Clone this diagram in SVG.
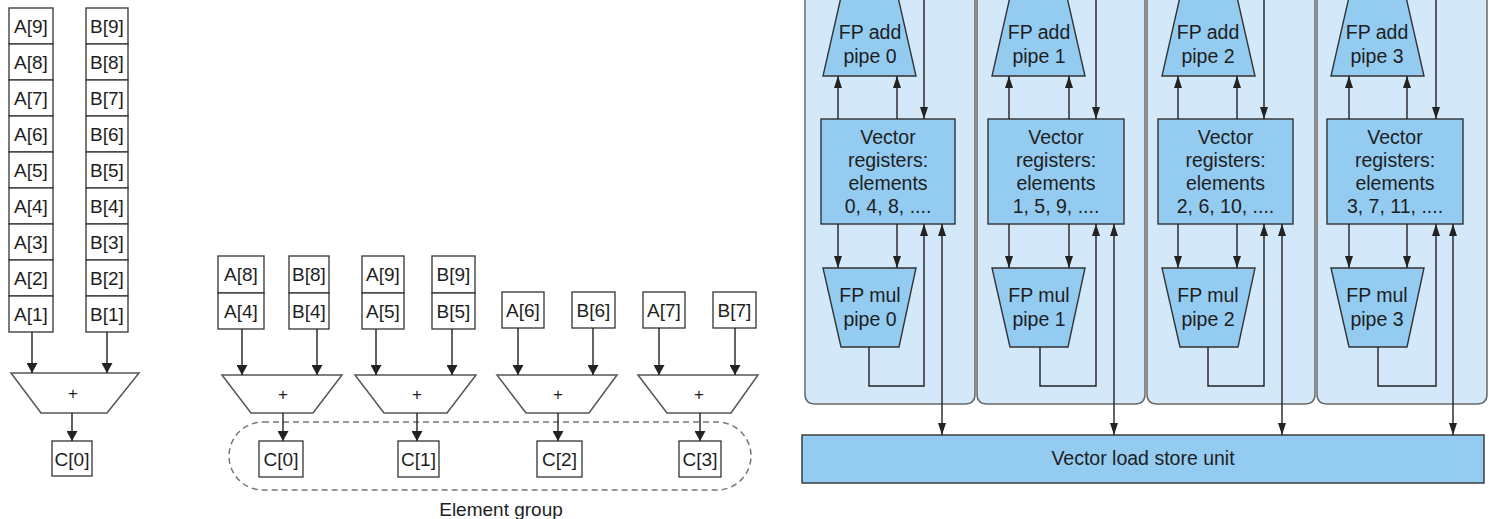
<svg xmlns="http://www.w3.org/2000/svg" width="1489" height="519" viewBox="0 0 1489 519">
<style>
text{font-family:"Liberation Sans",Arial,Helvetica,sans-serif;fill:#1e1e1e;text-anchor:middle}
.t{font-size:19px}
.p{font-size:17px}
.box{fill:#fff;stroke:#333;stroke-width:1.3}
.add{fill:#fff;stroke:#555;stroke-width:1.5}
.ln{fill:none;stroke:#222;stroke-width:1.4}
.lane{fill:#d3e8f8;stroke:#6a6a6a;stroke-width:1.5}
.blk{fill:#94cbf1;stroke:#333;stroke-width:1.4}
.lt{font-size:19.5px}
.grp{fill:none;stroke:#777;stroke-width:1.5;stroke-dasharray:6 4}
</style>
<defs>
<marker id="ah" markerWidth="10" markerHeight="11" refX="10" refY="5.5" orient="auto" markerUnits="userSpaceOnUse"><path d="M0,0 L10,5.5 L0,11 z" fill="#222"/></marker>
<marker id="ah2" markerWidth="12" markerHeight="8" refX="12" refY="4" orient="auto-start-reverse" markerUnits="userSpaceOnUse"><path d="M0,0 L12,4 L0,8 z" fill="#222"/></marker>
</defs>

<!-- Left: single pipeline -->
<g id="colA">
<rect class="box" x="9" y="8" width="44" height="36"/><text class="t" x="31" y="32.5">A[9]</text>
<rect class="box" x="9" y="44" width="44" height="36"/><text class="t" x="31" y="68.5">A[8]</text>
<rect class="box" x="9" y="80" width="44" height="36"/><text class="t" x="31" y="104.5">A[7]</text>
<rect class="box" x="9" y="116" width="44" height="36"/><text class="t" x="31" y="140.5">A[6]</text>
<rect class="box" x="9" y="152" width="44" height="36"/><text class="t" x="31" y="176.5">A[5]</text>
<rect class="box" x="9" y="188" width="44" height="36"/><text class="t" x="31" y="212.5">A[4]</text>
<rect class="box" x="9" y="224" width="44" height="36"/><text class="t" x="31" y="248.5">A[3]</text>
<rect class="box" x="9" y="260" width="44" height="36"/><text class="t" x="31" y="284.5">A[2]</text>
<rect class="box" x="9" y="296" width="44" height="36"/><text class="t" x="31" y="320.5">A[1]</text>
</g>
<g id="colB">
<rect class="box" x="86" y="8" width="42" height="36"/><text class="t" x="107" y="32.5">B[9]</text>
<rect class="box" x="86" y="44" width="42" height="36"/><text class="t" x="107" y="68.5">B[8]</text>
<rect class="box" x="86" y="80" width="42" height="36"/><text class="t" x="107" y="104.5">B[7]</text>
<rect class="box" x="86" y="116" width="42" height="36"/><text class="t" x="107" y="140.5">B[6]</text>
<rect class="box" x="86" y="152" width="42" height="36"/><text class="t" x="107" y="176.5">B[5]</text>
<rect class="box" x="86" y="188" width="42" height="36"/><text class="t" x="107" y="212.5">B[4]</text>
<rect class="box" x="86" y="224" width="42" height="36"/><text class="t" x="107" y="248.5">B[3]</text>
<rect class="box" x="86" y="260" width="42" height="36"/><text class="t" x="107" y="284.5">B[2]</text>
<rect class="box" x="86" y="296" width="42" height="36"/><text class="t" x="107" y="320.5">B[1]</text>
</g>
<g id="adder0">
<polygon class="add" points="11,373 139,373 107,413 41,413"/><text class="p" x="73" y="399">+</text>
</g>
<g id="c0single">
<rect class="box" x="52" y="441" width="40" height="35"/><text class="t" x="72" y="465.5">C[0]</text>
</g>

<!-- Middle: four lanes -->
<g id="m1inA"><rect class="box" x="218" y="256" width="46" height="37"/><text class="t" x="241" y="281">A[8]</text><rect class="box" x="218" y="293" width="46" height="36"/><text class="t" x="241" y="317.5">A[4]</text></g>
<g id="m1inB"><rect class="box" x="289" y="256" width="40" height="37"/><text class="t" x="309" y="281">B[8]</text><rect class="box" x="289" y="293" width="40" height="36"/><text class="t" x="309" y="317.5">B[4]</text></g>
<g id="m2inA"><rect class="box" x="362" y="256" width="42" height="37"/><text class="t" x="383" y="281">A[9]</text><rect class="box" x="362" y="293" width="42" height="36"/><text class="t" x="383" y="317.5">A[5]</text></g>
<g id="m2inB"><rect class="box" x="432" y="256" width="43" height="37"/><text class="t" x="453.5" y="281">B[9]</text><rect class="box" x="432" y="293" width="43" height="36"/><text class="t" x="453.5" y="317.5">B[5]</text></g>
<g id="m3inA"><rect class="box" x="502" y="292" width="42" height="36"/><text class="t" x="523" y="316.5">A[6]</text></g>
<g id="m3inB"><rect class="box" x="572" y="292" width="43" height="36"/><text class="t" x="593.5" y="316.5">B[6]</text></g>
<g id="m4inA"><rect class="box" x="643" y="292" width="42" height="36"/><text class="t" x="664" y="316.5">A[7]</text></g>
<g id="m4inB"><rect class="box" x="713" y="292" width="43" height="36"/><text class="t" x="734.5" y="316.5">B[7]</text></g>

<g id="madd1"><polygon class="add" points="222,375 342,375 313,413 251,413"/><text class="p" x="283" y="400">+</text></g>
<g id="madd2"><polygon class="add" points="355,375 476,375 447,413 384,413"/><text class="p" x="417" y="400">+</text></g>
<g id="madd3"><polygon class="add" points="497,375 617,375 589,413 526,413"/><text class="p" x="558" y="400">+</text></g>
<g id="madd4"><polygon class="add" points="638,375 758,375 731,413 667,413"/><text class="p" x="699" y="400">+</text></g>

<g id="elementGroup"><rect class="grp" x="229" y="422" width="522" height="68" rx="34" ry="34"/><text class="t" x="501" y="516">Element group</text></g>
<g id="mc0"><rect class="box" x="259" y="441" width="44" height="36"/><text class="t" x="281" y="465.5">C[0]</text></g>
<g id="mc1"><rect class="box" x="398" y="441" width="41" height="36"/><text class="t" x="418.5" y="465.5">C[1]</text></g>
<g id="mc2"><rect class="box" x="537" y="441" width="45" height="36"/><text class="t" x="559.5" y="465.5">C[2]</text></g>
<g id="mc3"><rect class="box" x="679" y="441" width="42" height="36"/><text class="t" x="700" y="465.5">C[3]</text></g>

<!-- Right: lanes -->
<g id="lane0"><path class="lane" d="M805,-10 V394 Q805,404 815,404 H965 Q975,404 975,394 V-10"/></g>
<g id="lane1"><path class="lane" d="M977,-10 V394 Q977,404 987,404 H1135 Q1145,404 1145,394 V-10"/></g>
<g id="lane2"><path class="lane" d="M1147,-10 V394 Q1147,404 1157,404 H1305 Q1315,404 1315,394 V-10"/></g>
<g id="lane3"><path class="lane" d="M1317,-10 V394 Q1317,404 1327,404 H1477 Q1487,404 1487,394 V-10"/></g>

<g id="fpadd0"><polygon class="blk" points="841,-3 898,-3 916,76 823,76"/><text class="lt" x="870" y="39">FP add</text><text class="lt" x="870" y="63">pipe 0</text></g>
<g id="fpadd1"><polygon class="blk" points="1010,-3 1067,-3 1085,76 992,76"/><text class="lt" x="1039" y="39">FP add</text><text class="lt" x="1039" y="63">pipe 1</text></g>
<g id="fpadd2"><polygon class="blk" points="1180,-3 1237,-3 1255,76 1162,76"/><text class="lt" x="1208" y="39">FP add</text><text class="lt" x="1208" y="63">pipe 2</text></g>
<g id="fpadd3"><polygon class="blk" points="1349,-3 1406,-3 1424,76 1331,76"/><text class="lt" x="1377" y="39">FP add</text><text class="lt" x="1377" y="63">pipe 3</text></g>

<g id="vreg0"><rect class="blk" x="821" y="119" width="134" height="105"/><text class="lt" x="888" y="144">Vector</text><text class="lt" x="888" y="167">registers:</text><text class="lt" x="888" y="190">elements</text><text class="lt" x="888" y="213">0, 4, 8, ....</text></g>
<g id="vreg1"><rect class="blk" x="988" y="119" width="136" height="105"/><text class="lt" x="1056" y="144">Vector</text><text class="lt" x="1056" y="167">registers:</text><text class="lt" x="1056" y="190">elements</text><text class="lt" x="1056" y="213">1, 5, 9, ....</text></g>
<g id="vreg2"><rect class="blk" x="1158" y="119" width="135" height="105"/><text class="lt" x="1225.5" y="144">Vector</text><text class="lt" x="1225.5" y="167">registers:</text><text class="lt" x="1225.5" y="190">elements</text><text class="lt" x="1225.5" y="213">2, 6, 10, ....</text></g>
<g id="vreg3"><rect class="blk" x="1327" y="119" width="136" height="105"/><text class="lt" x="1395" y="144">Vector</text><text class="lt" x="1395" y="167">registers:</text><text class="lt" x="1395" y="190">elements</text><text class="lt" x="1395" y="213">3, 7, 11, ....</text></g>

<g id="fpmul0"><polygon class="blk" points="823,268 916,268 899,347 841,347"/><text class="lt" x="870" y="302">FP mul</text><text class="lt" x="870" y="326">pipe 0</text></g>
<g id="fpmul1"><polygon class="blk" points="992,268 1085,268 1068,347 1010,347"/><text class="lt" x="1039" y="302">FP mul</text><text class="lt" x="1039" y="326">pipe 1</text></g>
<g id="fpmul2"><polygon class="blk" points="1162,268 1255,268 1238,347 1180,347"/><text class="lt" x="1208" y="302">FP mul</text><text class="lt" x="1208" y="326">pipe 2</text></g>
<g id="fpmul3"><polygon class="blk" points="1331,268 1424,268 1407,347 1349,347"/><text class="lt" x="1377" y="302">FP mul</text><text class="lt" x="1377" y="326">pipe 3</text></g>

<g id="lsu"><rect class="blk" x="802" y="435" width="682" height="48"/><text class="lt" x="1143" y="465">Vector load store unit</text></g>

<g id="connectors">
<!-- left -->
<line class="ln" x1="32" y1="332" x2="32" y2="373" marker-end="url(#ah)"/>
<line class="ln" x1="107" y1="332" x2="107" y2="373" marker-end="url(#ah)"/>
<line class="ln" x1="72" y1="413" x2="72" y2="441" marker-end="url(#ah)"/>
<!-- middle -->
<line class="ln" x1="242" y1="329" x2="242" y2="375" marker-end="url(#ah)"/>
<line class="ln" x1="317" y1="329" x2="317" y2="375" marker-end="url(#ah)"/>
<line class="ln" x1="376" y1="329" x2="376" y2="375" marker-end="url(#ah)"/>
<line class="ln" x1="452" y1="329" x2="452" y2="375" marker-end="url(#ah)"/>
<line class="ln" x1="518" y1="328" x2="518" y2="375" marker-end="url(#ah)"/>
<line class="ln" x1="593" y1="328" x2="593" y2="375" marker-end="url(#ah)"/>
<line class="ln" x1="659" y1="328" x2="659" y2="375" marker-end="url(#ah)"/>
<line class="ln" x1="735" y1="328" x2="735" y2="375" marker-end="url(#ah)"/>
<line class="ln" x1="283" y1="413" x2="283" y2="441" marker-end="url(#ah)"/>
<line class="ln" x1="417" y1="413" x2="417" y2="441" marker-end="url(#ah)"/>
<line class="ln" x1="558" y1="413" x2="558" y2="441" marker-end="url(#ah)"/>
<line class="ln" x1="700" y1="413" x2="700" y2="441" marker-end="url(#ah)"/>
<!-- lane 0 -->
<line class="ln" x1="838" y1="119" x2="838" y2="76" marker-end="url(#ah2)"/>
<line class="ln" x1="897" y1="119" x2="897" y2="76" marker-end="url(#ah2)"/>
<line class="ln" x1="924" y1="-5" x2="924" y2="119" marker-end="url(#ah2)"/>
<line class="ln" x1="838" y1="224" x2="838" y2="268" marker-end="url(#ah2)"/>
<line class="ln" x1="897" y1="224" x2="897" y2="268" marker-end="url(#ah2)"/>
<polyline class="ln" points="869,347 869,386 924,386 924,224" marker-end="url(#ah2)"/>
<line class="ln" x1="942" y1="224" x2="942" y2="435" marker-start="url(#ah2)" marker-end="url(#ah2)"/>
<!-- lane 1 -->
<line class="ln" x1="1009" y1="119" x2="1009" y2="76" marker-end="url(#ah2)"/>
<line class="ln" x1="1069" y1="119" x2="1069" y2="76" marker-end="url(#ah2)"/>
<line class="ln" x1="1096" y1="-5" x2="1096" y2="119" marker-end="url(#ah2)"/>
<line class="ln" x1="1009" y1="224" x2="1009" y2="268" marker-end="url(#ah2)"/>
<line class="ln" x1="1069" y1="224" x2="1069" y2="268" marker-end="url(#ah2)"/>
<polyline class="ln" points="1040,347 1040,386 1096,386 1096,224" marker-end="url(#ah2)"/>
<line class="ln" x1="1114" y1="224" x2="1114" y2="435" marker-start="url(#ah2)" marker-end="url(#ah2)"/>
<!-- lane 2 -->
<line class="ln" x1="1178" y1="119" x2="1178" y2="76" marker-end="url(#ah2)"/>
<line class="ln" x1="1237" y1="119" x2="1237" y2="76" marker-end="url(#ah2)"/>
<line class="ln" x1="1264" y1="-5" x2="1264" y2="119" marker-end="url(#ah2)"/>
<line class="ln" x1="1178" y1="224" x2="1178" y2="268" marker-end="url(#ah2)"/>
<line class="ln" x1="1237" y1="224" x2="1237" y2="268" marker-end="url(#ah2)"/>
<polyline class="ln" points="1208,347 1208,386 1264,386 1264,224" marker-end="url(#ah2)"/>
<line class="ln" x1="1282" y1="224" x2="1282" y2="435" marker-start="url(#ah2)" marker-end="url(#ah2)"/>
<!-- lane 3 -->
<line class="ln" x1="1349" y1="119" x2="1349" y2="76" marker-end="url(#ah2)"/>
<line class="ln" x1="1407" y1="119" x2="1407" y2="76" marker-end="url(#ah2)"/>
<line class="ln" x1="1436" y1="-5" x2="1436" y2="119" marker-end="url(#ah2)"/>
<line class="ln" x1="1349" y1="224" x2="1349" y2="268" marker-end="url(#ah2)"/>
<line class="ln" x1="1407" y1="224" x2="1407" y2="268" marker-end="url(#ah2)"/>
<polyline class="ln" points="1378,347 1378,386 1436,386 1436,224" marker-end="url(#ah2)"/>
<line class="ln" x1="1453" y1="224" x2="1453" y2="435" marker-start="url(#ah2)" marker-end="url(#ah2)"/>
</g>
</svg>
